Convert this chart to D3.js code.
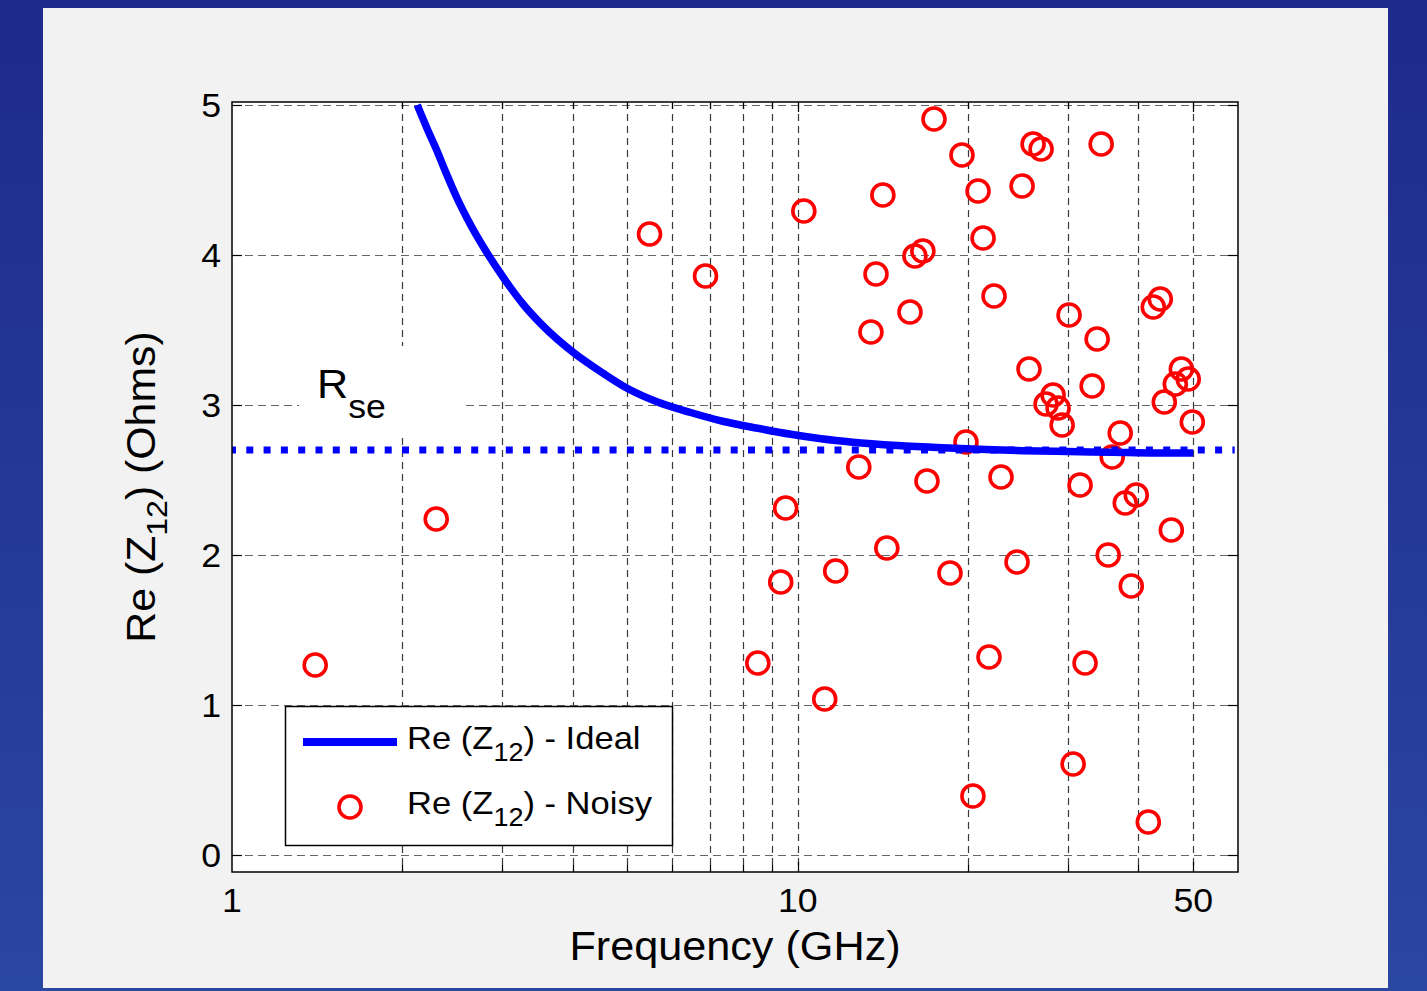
<!DOCTYPE html>
<html><head><meta charset="utf-8">
<script src="https://cdn.jsdelivr.net/npm/d3@7"></script>
<style>body{margin:0;background:#fff;} svg{display:block;}</style>
</head><body>
<svg id="c" width="1427" height="991"></svg>
<script>
// ---- data ----
const idealFreq = [2.125, 2.214, 2.306, 2.382, 2.502, 2.637, 2.828, 3.017, 3.273, 3.551, 4.013, 4.536, 5.003, 5.652, 6.466, 7.396, 8.497, 9.72, 11.0, 12.5, 15.0, 18.0, 21.0, 25.0, 30.0, 36.0, 43.0, 50.0];
const idealRe   = [5.0, 4.84, 4.69, 4.56, 4.375, 4.205, 4.01, 3.85, 3.67, 3.525, 3.35, 3.21, 3.11, 3.02, 2.95, 2.89, 2.845, 2.805, 2.775, 2.752, 2.73, 2.715, 2.705, 2.695, 2.69, 2.685, 2.68, 2.68];
const noisyFreq = [1.403, 2.296, 5.47, 6.87, 8.50, 9.33, 9.52, 10.25, 11.16, 11.67, 12.82, 13.47, 13.75, 14.14, 14.37, 15.79, 16.11, 16.64, 16.92, 17.41, 18.58, 19.51, 19.83, 20.40, 20.83, 21.26, 21.78, 22.23, 22.87, 24.41, 24.92, 25.63, 26.06, 26.92, 27.47, 28.27, 28.85, 29.33, 30.17, 30.67, 31.55, 32.2, 33.14, 33.82, 34.38, 35.38, 35.96, 37.15, 37.92, 38.86, 39.66, 41.65, 42.5, 43.73, 44.45, 45.74, 46.49, 47.64, 49.0, 49.82];
const noisyRe   = [1.267, 2.24, 4.14, 3.86, 1.28, 1.82, 2.313, 4.293, 1.04, 1.893, 2.587, 3.487, 3.873, 4.40, 2.047, 3.62, 3.993, 4.027, 2.493, 4.907, 1.88, 4.667, 2.753, 0.393, 4.427, 4.113, 1.32, 3.727, 2.52, 1.953, 4.46, 3.24, 4.74, 4.707, 3.007, 3.067, 2.98, 2.867, 3.60, 0.607, 2.467, 1.28, 3.127, 3.44, 4.74, 2.0, 2.653, 2.813, 2.347, 1.793, 2.4, 0.22, 3.653, 3.707, 3.02, 2.167, 3.14, 3.24, 3.173, 2.887];
const rseValue = 2.7;
const xTickValues = [1, 10, 50];
const xTickLabels = ["1", "10", "50"];
const yTickValues = [0, 1, 2, 3, 4, 5];
const yTickLabels = ["0", "1", "2", "3", "4", "5"];
const xLabelParts = [{t: "Frequency (GHz)"}];
const yLabelParts = [{t: "Re (Z"}, {t: "12", sub: true}, {t: ") (Ohms)"}];
const legendParts = [
  [{t: "Re (Z"}, {t: "12", sub: true}, {t: ") - Ideal"}],
  [{t: "Re (Z"}, {t: "12", sub: true}, {t: ") - Noisy"}]
];
const rseParts = [{t: "R"}, {t: "se", sub: true}];

// ---- layout ----
const W = 1427, H = 991;
const L = 232, R = 1238, T = 102, B = 872;
const FONT = "'Liberation Sans', Arial, Helvetica, sans-serif";
const SX = 1.08;

const svg = d3.select("#c");
const defs = svg.append("defs");
const grad = defs.append("linearGradient").attr("id", "bg").attr("x1", 0).attr("y1", 0).attr("x2", 0).attr("y2", 1);
grad.append("stop").attr("offset", "0%").attr("stop-color", "#1e2a8c");
grad.append("stop").attr("offset", "100%").attr("stop-color", "#2a47a2");
svg.append("rect").attr("width", W).attr("height", H).attr("fill", "url(#bg)");
svg.append("rect").attr("x", 43).attr("y", 8).attr("width", 1345).attr("height", 980).attr("fill", "#f2f2f2");

const x = d3.scaleLog().domain([1, 60]).range([L, R]);
const y = d3.scaleLinear().domain([-0.1133, 5.02]).range([B, T]);

defs.append("clipPath").attr("id", "clip").append("rect")
  .attr("x", L).attr("y", T).attr("width", R - L).attr("height", B - T);

svg.append("rect").attr("x", L).attr("y", T).attr("width", R - L).attr("height", B - T).attr("fill", "#fff");

// gridlines
const gridX = x.ticks().filter(v => v > 1 && v < 60);
const grid = svg.append("g").attr("clip-path", "url(#clip)");
grid.selectAll("line.gx").data(gridX).join("line")
  .attr("x1", d => Math.round(x(d)) + 0.5).attr("x2", d => Math.round(x(d)) + 0.5)
  .attr("y1", T).attr("y2", B)
  .attr("stroke", "#3a3a3a").attr("stroke-width", 1.2).attr("stroke-dasharray", "7,5");
grid.selectAll("line.gy").data(yTickValues).join("line")
  .attr("y1", d => Math.round(y(d)) + 0.5).attr("y2", d => Math.round(y(d)) + 0.5)
  .attr("x1", L).attr("x2", R)
  .attr("stroke", "#666").attr("stroke-width", 1.2).attr("stroke-dasharray", "8,5");

// helper for text with subscripts
function richText(g, parts, size, subSize, subDy) {
  const t = g.append("text").attr("font-family", FONT).attr("font-size", size).attr("fill", "#000");
  parts.forEach((p, i) => {
    const ts = t.append("tspan").text(p.t);
    if (p.sub) { ts.attr("font-size", subSize).attr("dy", subDy); }
    else if (i > 0 && parts[i - 1].sub) { ts.attr("dy", -subDy); }
  });
  return t;
}

// R_se annotation with white background
svg.append("rect").attr("x", 299).attr("y", 346).attr("width", 162).attr("height", 87).attr("fill", "#fff");
const rseG = svg.append("g").attr("transform", `translate(317,398) scale(${SX},1)`);
richText(rseG, rseParts, 40, 33, 20);

// noisy circles
const plot = svg.append("g").attr("clip-path", "url(#clip)");
plot.selectAll("circle").data(noisyFreq.map((f, i) => [f, noisyRe[i]])).join("circle")
  .attr("cx", d => x(d[0])).attr("cy", d => y(d[1])).attr("r", 11)
  .attr("fill", "none").attr("stroke", "#ff0000").attr("stroke-width", 3.6);

// Rse dotted line
plot.append("line")
  .attr("x1", x(1) - 3).attr("x2", x(59.2)).attr("y1", y(rseValue)).attr("y2", y(rseValue))
  .attr("stroke", "#0000ff").attr("stroke-width", 7).attr("stroke-dasharray", "7,10.3");

// ideal curve
const line = d3.line().x(d => x(d[0])).y(d => y(d[1])).curve(d3.curveMonotoneX);
plot.append("path").datum(idealFreq.map((f, i) => [f, idealRe[i]]))
  .attr("d", line).attr("fill", "none").attr("stroke", "#0000ff").attr("stroke-width", 7.5)
  .attr("stroke-linejoin", "round");

// axes box
svg.append("rect").attr("x", L).attr("y", T).attr("width", R - L).attr("height", B - T)
  .attr("fill", "none").attr("stroke", "#000").attr("stroke-width", 1.5);

// ticks
const tickG = svg.append("g").attr("stroke", "#000").attr("stroke-width", 1.2);
const allX = x.ticks().filter(v => v > 1 && v < 60);
allX.forEach(v => {
  const len = (v === 10 || v === 50) ? 10 : 7;
  const px = Math.round(x(v)) + 0.5;
  tickG.append("line").attr("x1", px).attr("x2", px).attr("y1", B).attr("y2", B - len);
  tickG.append("line").attr("x1", px).attr("x2", px).attr("y1", T).attr("y2", T + len);
});
yTickValues.forEach(v => {
  const py = Math.round(y(v)) + 0.5;
  tickG.append("line").attr("x1", L).attr("x2", L + 10).attr("y1", py).attr("y2", py);
  tickG.append("line").attr("x1", R).attr("x2", R - 10).attr("y1", py).attr("y2", py);
});

// tick labels
xTickValues.forEach((v, i) => {
  svg.append("text").attr("transform", `translate(${x(v)},912) scale(${SX},1)`)
    .attr("text-anchor", "middle").attr("font-family", FONT).attr("font-size", 33).text(xTickLabels[i]);
});
yTickValues.forEach((v, i) => {
  svg.append("text").attr("transform", `translate(221,${y(v) + 12}) scale(${SX},1)`)
    .attr("text-anchor", "end").attr("font-family", FONT).attr("font-size", 33).text(yTickLabels[i]);
});

// axis labels
const xl = svg.append("g").attr("transform", `translate(${(L + R) / 2},960) scale(${SX},1)`);
richText(xl, xLabelParts, 40, 30, 12).attr("text-anchor", "middle");
const yl = svg.append("g").attr("transform", `translate(155,${(T + B) / 2}) rotate(-90) scale(1.07,1)`);
richText(yl, yLabelParts, 40, 30, 12).attr("text-anchor", "middle");

// legend
svg.append("rect").attr("x", 285.5).attr("y", 706.5).attr("width", 387).attr("height", 139)
  .attr("fill", "#fff").attr("stroke", "#000").attr("stroke-width", 1.5);
svg.append("line").attr("x1", 303).attr("x2", 397).attr("y1", 742).attr("y2", 742)
  .attr("stroke", "#0000ff").attr("stroke-width", 8);
svg.append("circle").attr("cx", 350).attr("cy", 807).attr("r", 11)
  .attr("fill", "none").attr("stroke", "#ff0000").attr("stroke-width", 3.6);
const lg1 = svg.append("g").attr("transform", `translate(407,749) scale(${SX},1)`);
richText(lg1, legendParts[0], 32, 25, 12);
const lg2 = svg.append("g").attr("transform", `translate(407,814) scale(${SX},1)`);
richText(lg2, legendParts[1], 32, 25, 12);
</script>
</body></html>
